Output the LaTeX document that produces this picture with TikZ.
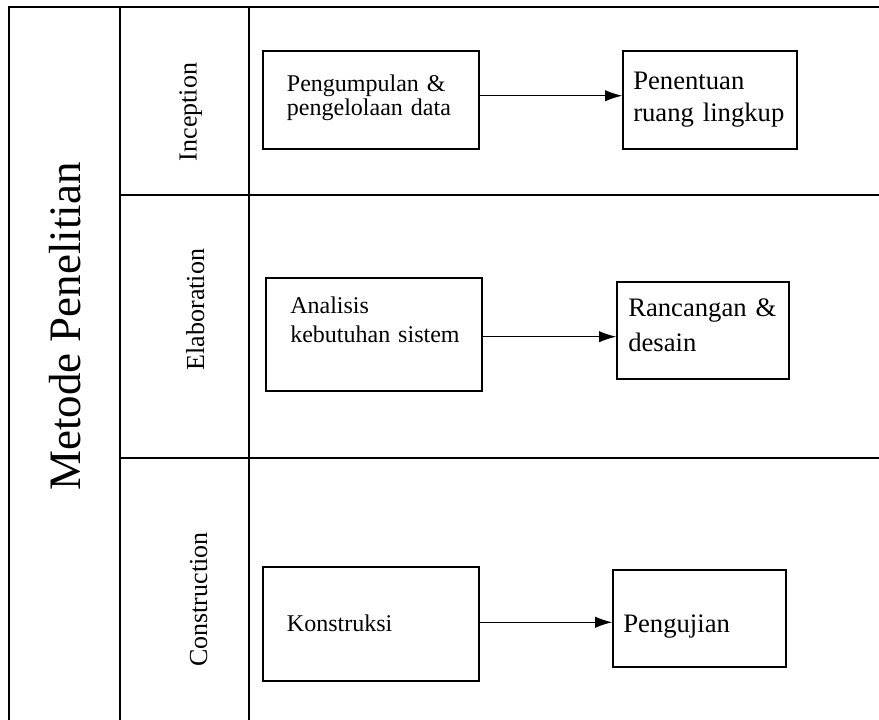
\documentclass[tikz,border=0pt]{standalone}
\usepackage{fontspec}
\setmainfont{Liberation Serif}
\usetikzlibrary{arrows.meta}

\begin{document}
\begin{tikzpicture}[x=0.75pt, y=-0.75pt,
  grid/.style={line width=1.2pt},
  box/.style={draw, line width=0.9pt, inner sep=0pt},
  txt/.style={anchor=base west, inner sep=0pt, align=left, text width=150pt},
  phase/.style={rotate=90, anchor=base, inner sep=0pt, font=\fontsize{19.5}{22}\selectfont},
  flow/.style={line width=1pt, -{Latex[length=13pt,width=8.5pt]}}]
\useasboundingbox (0,0) rectangle (879,720);
% table
\draw[grid] (9,720) -- (9,7) -- (879,7);
\draw[grid] (120,7) -- (120,720);
\draw[grid] (249,7) -- (249,720);
\draw[grid] (120,195) -- (879,195);
\draw[grid] (120,458) -- (879,458);
\node[rotate=90, anchor=base, inner sep=0pt, font=\fontsize{33.75}{36}\selectfont] (method) at (80,326.5) {Metode Penelitian};
\node[phase] (inception) at (196.7,112) {Inception};
\node[phase] (elaboration) at (204,309.5) {Elaboration};
\node[phase] (construction) at (207,599.7) {Construction};
% inception
\node[box, minimum width=162pt, minimum height=73.5pt] (collect) at (371,100) {};
\node[txt, font=\fontsize{18}{18.2}\selectfont] (collect-txt) at (286.7,91.7) {Pengumpulan \&\\pengelolaan data};
\node[box, minimum width=130.5pt, minimum height=73.5pt] (scope) at (710,100) {};
\node[txt, font=\fontsize{20}{23.8}\selectfont] (scope-txt) at (633,90) {Penentuan\\ruang lingkup};
% elaboration
\node[box, minimum width=162pt, minimum height=84.75pt] (analysis) at (374,334.5) {};
\node[txt, font=\fontsize{18}{21.5}\selectfont] (analysis-txt) at (290,314) {Analisis\\kebutuhan sistem};
\node[box, minimum width=129pt, minimum height=72.75pt] (design) at (703,330.5) {};
\node[txt, font=\fontsize{20}{26}\selectfont] (design-txt) at (628,317) {Rancangan \&\\desain};
% construction
\node[box, minimum width=162pt, minimum height=85.5pt] (build) at (371,624) {};
\node[txt, font=\fontsize{18}{20}\selectfont] (build-txt) at (286.7,631.7) {Konstruksi};
\node[box, minimum width=129.75pt, minimum height=72.75pt] (test) at (699.5,618.5) {};
\node[txt, font=\fontsize{20}{24}\selectfont] (test-txt) at (623,632) {Pengujian};
% arrows
\draw[flow] ([yshift=3.2pt]collect.east) -- ([yshift=3.2pt]collect.east -| scope.west);
\draw[flow] ([yshift=-1.65pt]analysis.east) -- ([yshift=-1.65pt]analysis.east -| design.west);
\draw[flow] ([yshift=1.3pt]build.east) -- ([yshift=1.3pt]build.east -| test.west);
\end{tikzpicture}
\end{document}
